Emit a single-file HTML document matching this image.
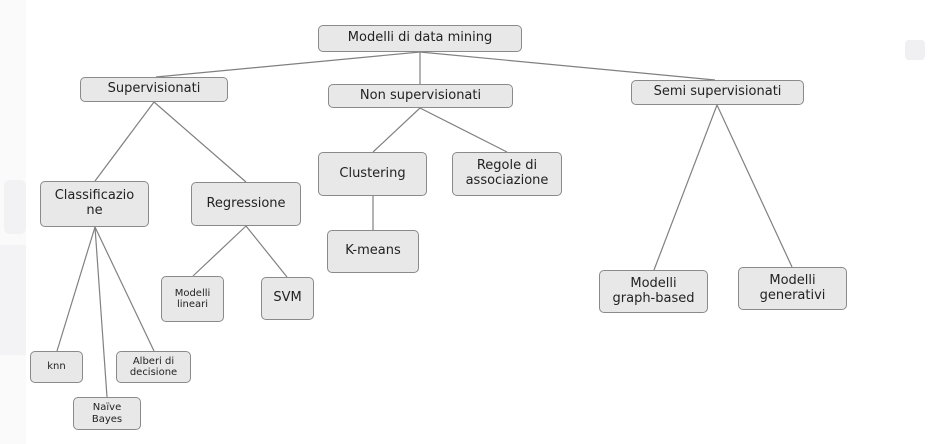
<!DOCTYPE html>
<html><head><meta charset="utf-8"><style>
html,body{margin:0;padding:0;background:#fff;}
.w{position:relative;width:937px;height:444px;overflow:hidden;background:#fff;font-family:"DejaVu Sans","Liberation Sans",sans-serif;}
.n{position:absolute;box-sizing:border-box;background:#e8e8e8;border:1.3px solid #8a8a8a;border-radius:5px;display:flex;align-items:center;justify-content:center;text-align:center;color:#222;line-height:1.15;}
svg{position:absolute;left:0;top:0;}
</style></head><body><div class="w">
<div style="position:absolute;left:0;top:0;width:26px;height:444px;background:#fafafb"></div>
<div style="position:absolute;left:4px;top:180px;width:22px;height:54px;background:#f2f2f4;border-radius:6px"></div>
<div style="position:absolute;left:0;top:245px;width:26px;height:110px;background:#f3f3f5"></div>
<div style="position:absolute;left:905px;top:40px;width:20px;height:20px;background:#f0f0f2;border-radius:4px"></div>
<svg width="937" height="444"><g stroke="#808080" stroke-width="1.2" fill="none">
<line x1="420" y1="52" x2="156" y2="77"/><line x1="420" y1="52" x2="420" y2="84"/><line x1="420" y1="52" x2="715" y2="80"/>
<line x1="154" y1="102" x2="95" y2="181"/><line x1="154" y1="102" x2="246" y2="182"/>
<line x1="95" y1="227" x2="57" y2="351"/><line x1="95" y1="227" x2="107" y2="397"/><line x1="95" y1="227" x2="154" y2="351"/>
<line x1="246" y1="226" x2="193" y2="276"/><line x1="246" y1="226" x2="287" y2="277"/>
<line x1="420" y1="108" x2="373" y2="152"/><line x1="420" y1="108" x2="507" y2="152"/>
<line x1="373" y1="196" x2="373" y2="230"/>
<line x1="717" y1="105" x2="654" y2="270"/><line x1="717" y1="105" x2="792" y2="267"/>
</g></svg>
<div class="n" style="left:318px;top:25px;width:204px;height:27px;font-size:13px">Modelli di data mining</div>
<div class="n" style="left:80px;top:77px;width:148px;height:25px;font-size:13px">Supervisionati</div>
<div class="n" style="left:328px;top:84px;width:185px;height:24px;font-size:13px">Non supervisionati</div>
<div class="n" style="left:631px;top:80px;width:173px;height:25px;font-size:13px">Semi supervisionati</div>
<div class="n" style="left:40px;top:181px;width:109px;height:46px;font-size:13px">Classificazio<br>ne</div>
<div class="n" style="left:191px;top:182px;width:110px;height:44px;font-size:13px">Regressione</div>
<div class="n" style="left:318px;top:152px;width:109px;height:44px;font-size:13px">Clustering</div>
<div class="n" style="left:452px;top:152px;width:110px;height:44px;font-size:13px">Regole di<br>associazione</div>
<div class="n" style="left:327px;top:230px;width:92px;height:43px;font-size:13px">K-means</div>
<div class="n" style="left:161px;top:276px;width:63px;height:46px;font-size:10px">Modelli<br>lineari</div>
<div class="n" style="left:261px;top:277px;width:53px;height:43px;font-size:13px">SVM</div>
<div class="n" style="left:30px;top:351px;width:53px;height:32px;font-size:10px">knn</div>
<div class="n" style="left:73px;top:397px;width:68px;height:33px;font-size:10px">Naïve<br>Bayes</div>
<div class="n" style="left:116px;top:351px;width:75px;height:32px;font-size:10px">Alberi di<br>decisione</div>
<div class="n" style="left:599px;top:270px;width:109px;height:43px;font-size:13px">Modelli<br>graph-based</div>
<div class="n" style="left:738px;top:267px;width:109px;height:43px;font-size:13px">Modelli<br>generativi</div>
</div></body></html>
